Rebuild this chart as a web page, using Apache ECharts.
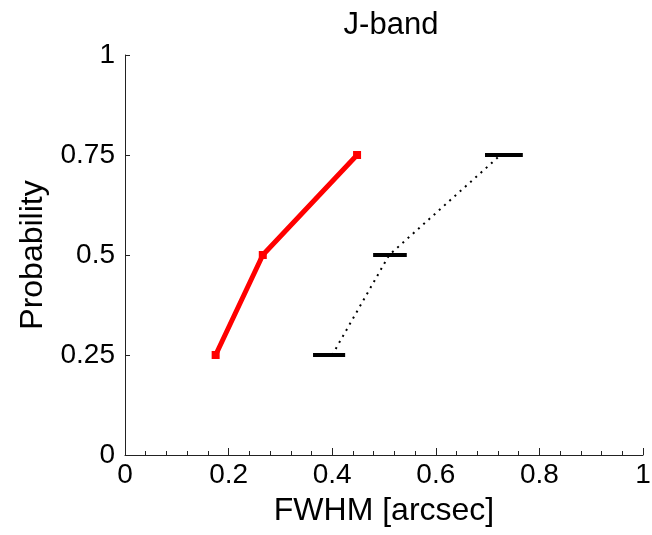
<!DOCTYPE html>
<html>
<head>
<meta charset="utf-8">
<script src="https://cdn.jsdelivr.net/npm/echarts@6/dist/echarts.min.js"></script>
<style>
  html, body { margin: 0; padding: 0; background: #fff; }
  #chart { width: 652px; height: 535px; }
</style>
</head>
<body>
<div id="chart"></div>
<script>
// probability levels
var probLevels = [0.25, 0.5, 0.75];
// red curve
var redFwhm = [0.175, 0.266, 0.448];
// black dotted curve
var blackFwhm = [0.40, 0.51, 0.725];
// black horizontal bars (left / right ends)
var barLeft = [0.363, 0.479, 0.695];
var barRight = [0.425, 0.544, 0.768];
var xTicks = [0, 0.2, 0.4, 0.6, 0.8, 1];
var yTicks = [0, 0.25, 0.5, 0.75, 1];

var redData = redFwhm.map(function (x, i) { return [x, probLevels[i]]; });
var blackData = blackFwhm.map(function (x, i) { return [x, probLevels[i]]; });
var barData = probLevels.map(function (p, i) { return [barLeft[i], barRight[i], p]; });

var font = 'Liberation Sans, Arial, sans-serif';
var chart = echarts.init(document.getElementById('chart'));

var option = {
    animation: false,
    title: {
        text: 'J-band',
        left: 386,
        top: 5,
        textAlign: 'center',
        textStyle: { fontFamily: font, fontSize: 31, fontWeight: 'normal', color: '#000' }
    },
    grid: { left: 125, right: 9, top: 55, bottom: 80, containLabel: false, outerBoundsMode: 'none' },
    xAxis: {
        type: 'value',
        min: 0, max: 1, interval: 0.2,
        name: 'FWHM [arcsec]',
        nameLocation: 'middle',
        nameGap: 40,
        nameTextStyle: { fontFamily: font, fontSize: 32, color: '#000' },
        axisLine: { lineStyle: { color: '#222', width: 1 } },
        axisTick: { inside: true, length: 7, lineStyle: { color: '#222' } },
        minorTick: { show: true, splitNumber: 5, length: 4, lineStyle: { color: '#222' } },
        splitLine: { show: false },
        axisLabel: {
            fontFamily: font, fontSize: 28, color: '#000', margin: 6,
            formatter: function (v) { return xTicks.indexOf(+v.toFixed(2)) >= 0 ? String(+v.toFixed(2)) : ''; }
        }
    },
    yAxis: {
        type: 'value',
        min: 0, max: 1, interval: 0.25,
        name: 'Probability',
        nameLocation: 'middle',
        nameGap: 74,
        nameTextStyle: { fontFamily: font, fontSize: 32, color: '#000' },
        axisLine: { show: true, lineStyle: { color: '#222', width: 1 } },
        axisTick: { show: true, inside: true, length: 5, lineStyle: { color: '#222' } },
        splitLine: { show: false },
        axisLabel: {
            fontFamily: font, fontSize: 28, color: '#000', margin: 10,
            formatter: function (v) { return yTicks.indexOf(v) >= 0 ? String(v) : ''; }
        }
    },
    series: [
        {
            name: 'red',
            type: 'line',
            data: redData,
            lineStyle: { color: '#ff0000', width: 5 },
            itemStyle: { color: '#ff0000' },
            symbol: 'rect',
            symbolSize: 8,
            z: 3
        },
        {
            name: 'black',
            type: 'line',
            data: blackData,
            lineStyle: { color: '#000', width: 2, type: [2, 5] },
            symbol: 'none',
            z: 2
        },
        {
            name: 'bars',
            type: 'custom',
            data: barData,
            renderItem: function (params, api) {
                var a = api.coord([api.value(0), api.value(2)]);
                var b = api.coord([api.value(1), api.value(2)]);
                return {
                    type: 'line',
                    shape: { x1: a[0], y1: a[1], x2: b[0], y2: b[1] },
                    style: { stroke: '#000', lineWidth: 4 }
                };
            },
            encode: { x: [0, 1], y: 2 },
            z: 4
        }
    ]
};
chart.setOption(option);
</script>
</body>
</html>
